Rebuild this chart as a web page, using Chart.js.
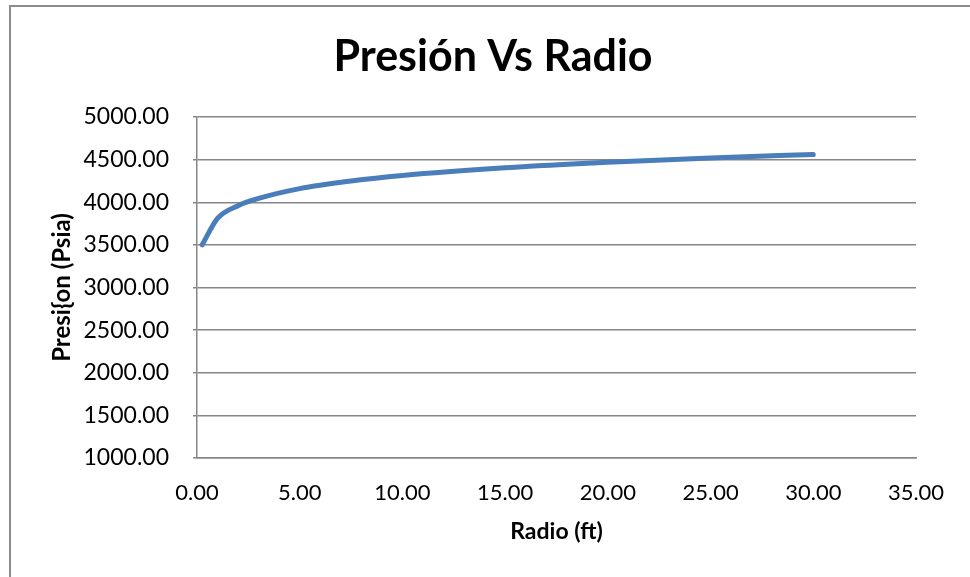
<!DOCTYPE html>
<html>
<head>
<meta charset="utf-8">
<script src="https://cdn.jsdelivr.net/npm/chart.js@4"></script>
<style>
    html, body { margin: 0; padding: 0; background: #fff; }
    .frame {
        position: absolute; left: 9px; top: 5px; width: 961px; height: 572px;
        border-left: 2px solid #8c8c8c; border-top: 2px solid #8c8c8c;
    }
    .wrap { position: absolute; left: 0; top: 0; width: 970px; height: 577px; }
</style>
</head>
<body>
<div class="frame"></div>
<div class="wrap"><canvas id="chartPresion"></canvas></div>
<script>
// radio (ft) vs presión (psia)
const radio   = [0.25, 1, 2, 3, 5, 7.5, 10, 15, 20, 25, 30];
const presion = [3500, 3810, 3960, 4045, 4160, 4250, 4315, 4405, 4470, 4520, 4560];

const xTicks = { min: 0, max: 35, step: 5 };
const yTicks = { min: 1000, max: 5000, step: 500 };

const GRID = "#868686";
const FONT = "Lato, 'Open Sans', sans-serif";

// the title in the original sits a bit right of the canvas centre
const titleShift = {
    id: "titleShift",
    afterLayout(chart) {
        const t = chart.titleBlock;
        if (t) { t.left = 16; t.right = 970; }
    },
};

document.addEventListener("DOMContentLoaded", () => {
    const c = document.getElementById("chartPresion");
    new Chart(c, {
        type: "scatter",
        data: {
            datasets: [{
                label: "Presión",
                data: radio.map((r, i) => ({ x: r, y: presion[i] })),
                showLine: true,
                borderColor: "#4a7ebb",
                borderWidth: 5,
                pointRadius: 0,
                cubicInterpolationMode: "monotone",
                borderCapStyle: "round",
            }],
        },
        plugins: [titleShift],
        options: {
            responsive: true, maintainAspectRatio: false, animation: false,
            layout: { padding: { left: 8, top: 6, right: 54, bottom: 0 } },
            plugins: {
                legend: { display: false },
                tooltip: { enabled: false },
                title: {
                    display: true, text: "Presión Vs Radio", color: "#000",
                    font: { family: FONT, size: 43, weight: "bold" },
                    padding: { top: 25, bottom: 34.4 },
                },
            },
            scales: {
                x: {
                    type: "linear", min: xTicks.min, max: xTicks.max,
                    afterFit: s => { s.height = 119; },
                    grid: { display: false, drawTicks: false },
                    border: { display: true, color: GRID, width: 1.5 },
                    ticks: {
                        stepSize: xTicks.step, color: "#000", padding: 22,
                        font: { family: FONT, size: 22 },
                        callback: v => v.toFixed(2),
                    },
                    title: {
                        display: true, text: "Radio (ft)", color: "#000",
                        font: { family: FONT, size: 23, weight: "bold" },
                        padding: { top: 10, bottom: 32 },
                    },
                },
                y: {
                    type: "linear", min: yTicks.min, max: yTicks.max,
                    afterFit: s => { s.width = 189; },
                    grid: { color: GRID, lineWidth: 1.5, tickLength: 4 },
                    border: { display: true, color: GRID, width: 1.5 },
                    ticks: {
                        stepSize: yTicks.step, color: "#000", padding: 24,
                        font: { family: FONT, size: 23 },
                        callback: v => v.toFixed(2),
                    },
                    title: {
                        display: true, text: "Presi{on (Psia)", color: "#000",
                        font: { family: FONT, size: 24, weight: "bold" },
                        padding: { top: 40, bottom: 0 },
                    },
                },
            },
        },
    });
});
</script>
</body>
</html>
